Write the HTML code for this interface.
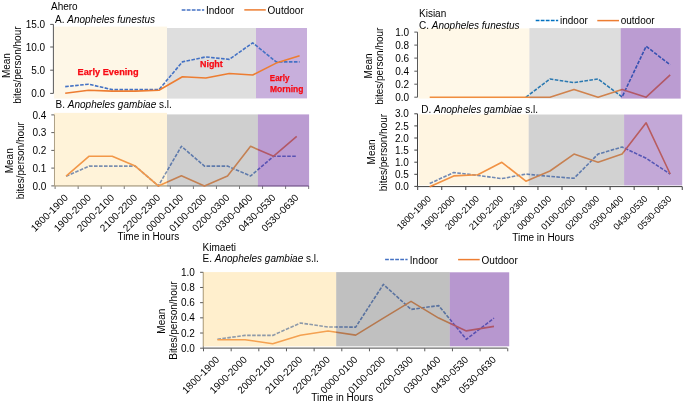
<!DOCTYPE html>
<html><head><meta charset="utf-8"><style>
html,body{margin:0;padding:0;background:#fff;}
body{width:685px;height:404px;overflow:hidden;}
svg{display:block;will-change:transform;font-family:"Liberation Sans", sans-serif;}
</style></head><body>
<svg width="685" height="404" viewBox="0 0 685 404">
<rect x="0" y="0" width="685" height="404" fill="#fff"/>
<text x="51.00" y="9.90" font-size="10" text-anchor="start" font-weight="normal" fill="#000" >Ahero</text>
<text x="55.00" y="23.40" font-size="10" text-anchor="start" font-weight="normal" fill="#000" >A. <tspan font-style="italic">Anopheles funestus</tspan></text>
<line x1="181.70" y1="9.90" x2="204.20" y2="9.90" stroke="#4472C4" stroke-width="1.5" stroke-dasharray="3.75,1.3"/>
<text x="206.00" y="13.80" font-size="10" text-anchor="start" font-weight="normal" fill="#000" >Indoor</text>
<line x1="244.30" y1="9.90" x2="265.80" y2="9.90" stroke="#ED7D31" stroke-width="1.5" />
<text x="267.60" y="13.80" font-size="10" text-anchor="start" font-weight="normal" fill="#000" >Outdoor</text>
<text x="0.00" y="0.00" font-size="10" text-anchor="middle" font-weight="normal" fill="#000" transform="translate(9.50,65.60) rotate(-90)">Mean</text>
<text x="0.00" y="0.00" font-size="10" text-anchor="middle" font-weight="normal" fill="#000" transform="translate(21.30,65.10) rotate(-90)">bites/person/hour</text>
<line x1="53.40" y1="24.40" x2="53.40" y2="93.40" stroke="#595959" stroke-width="1" />
<line x1="50.20" y1="24.40" x2="53.40" y2="24.40" stroke="#595959" stroke-width="1" />
<text x="45.20" y="28.00" font-size="10" text-anchor="end" font-weight="normal" fill="#000" >15.0</text>
<line x1="50.20" y1="47.00" x2="53.40" y2="47.00" stroke="#595959" stroke-width="1" />
<text x="45.20" y="50.60" font-size="10" text-anchor="end" font-weight="normal" fill="#000" >10.0</text>
<line x1="50.20" y1="70.20" x2="53.40" y2="70.20" stroke="#595959" stroke-width="1" />
<text x="45.20" y="73.80" font-size="10" text-anchor="end" font-weight="normal" fill="#000" >5.0</text>
<line x1="50.20" y1="93.40" x2="53.40" y2="93.40" stroke="#595959" stroke-width="1" />
<text x="45.20" y="97.00" font-size="10" text-anchor="end" font-weight="normal" fill="#000" >0.0</text>
<rect x="54.10" y="26.60" width="112.90" height="72.00" fill="#FEF7E7" fill-opacity="1"/>
<rect x="167.00" y="28.00" width="89.00" height="70.60" fill="#DEDEDE" fill-opacity="1"/>
<rect x="256.00" y="28.00" width="51.00" height="70.40" fill="#C8AFDC" fill-opacity="1"/>
<polyline points="65.20,86.60 88.64,84.20 112.08,89.60 135.52,89.60 158.96,89.60 182.40,61.90 205.84,56.90 229.28,59.40 252.72,42.80 276.16,61.90 299.60,61.90" fill="none" stroke="#4472C4" stroke-width="1.6" stroke-linejoin="round" stroke-dasharray="3.6,1.4"/>
<polyline points="65.20,93.30 88.64,90.30 112.08,91.10 135.52,91.10 158.96,90.30 182.40,76.70 205.84,78.00 229.28,73.50 252.72,75.00 276.16,63.10 299.60,55.70" fill="none" stroke="#ED7D31" stroke-width="1.6" stroke-linejoin="round"/>
<text x="77.60" y="75.30" font-size="9.2" text-anchor="start" font-weight="bold" fill="#F80A14" textLength="61" lengthAdjust="spacingAndGlyphs" stroke="#F80A14" stroke-width="0.25">Early Evening</text>
<text x="200.00" y="67.30" font-size="9.2" text-anchor="start" font-weight="bold" fill="#F80A14" textLength="22.8" lengthAdjust="spacingAndGlyphs" stroke="#F80A14" stroke-width="0.25">Night</text>
<text x="269.80" y="81.10" font-size="9.2" text-anchor="start" font-weight="bold" fill="#F80A14" textLength="19.6" lengthAdjust="spacingAndGlyphs" stroke="#F80A14" stroke-width="0.25">Early</text>
<text x="270.00" y="92.30" font-size="9.2" text-anchor="start" font-weight="bold" fill="#F80A14" textLength="33.4" lengthAdjust="spacingAndGlyphs" stroke="#F80A14" stroke-width="0.25">Morning</text>
<text x="55.60" y="108.10" font-size="10" text-anchor="start" font-weight="normal" fill="#000" >B. <tspan font-style="italic">Anopheles gambiae</tspan> s.l.</text>
<text x="0.00" y="0.00" font-size="10" text-anchor="middle" font-weight="normal" fill="#000" transform="translate(12.80,160.80) rotate(-90)">Mean</text>
<text x="0.00" y="0.00" font-size="10" text-anchor="middle" font-weight="normal" fill="#000" transform="translate(24.40,160.70) rotate(-90)">bites/person/hour</text>
<line x1="54.60" y1="185.90" x2="308.60" y2="185.90" stroke="#8C8C8C" stroke-width="1.2" />
<line x1="55.10" y1="185.90" x2="55.10" y2="189.00" stroke="#7A7A7A" stroke-width="1" />
<line x1="78.15" y1="185.90" x2="78.15" y2="189.00" stroke="#7A7A7A" stroke-width="1" />
<line x1="101.20" y1="185.90" x2="101.20" y2="189.00" stroke="#7A7A7A" stroke-width="1" />
<line x1="124.25" y1="185.90" x2="124.25" y2="189.00" stroke="#7A7A7A" stroke-width="1" />
<line x1="147.30" y1="185.90" x2="147.30" y2="189.00" stroke="#7A7A7A" stroke-width="1" />
<line x1="170.35" y1="185.90" x2="170.35" y2="189.00" stroke="#7A7A7A" stroke-width="1" />
<line x1="193.40" y1="185.90" x2="193.40" y2="189.00" stroke="#7A7A7A" stroke-width="1" />
<line x1="216.45" y1="185.90" x2="216.45" y2="189.00" stroke="#7A7A7A" stroke-width="1" />
<line x1="239.50" y1="185.90" x2="239.50" y2="189.00" stroke="#7A7A7A" stroke-width="1" />
<line x1="262.55" y1="185.90" x2="262.55" y2="189.00" stroke="#7A7A7A" stroke-width="1" />
<line x1="285.60" y1="185.90" x2="285.60" y2="189.00" stroke="#7A7A7A" stroke-width="1" />
<line x1="308.65" y1="185.90" x2="308.65" y2="189.00" stroke="#7A7A7A" stroke-width="1" />
<line x1="54.50" y1="114.90" x2="54.50" y2="185.90" stroke="#8C8C8C" stroke-width="1" />
<line x1="51.30" y1="114.90" x2="54.50" y2="114.90" stroke="#5F5F5F" stroke-width="1" />
<text x="46.40" y="118.50" font-size="10" text-anchor="end" font-weight="normal" fill="#000" >0.4</text>
<line x1="51.30" y1="132.60" x2="54.50" y2="132.60" stroke="#5F5F5F" stroke-width="1" />
<text x="46.40" y="136.20" font-size="10" text-anchor="end" font-weight="normal" fill="#000" >0.3</text>
<line x1="51.30" y1="150.40" x2="54.50" y2="150.40" stroke="#5F5F5F" stroke-width="1" />
<text x="46.40" y="154.00" font-size="10" text-anchor="end" font-weight="normal" fill="#000" >0.2</text>
<line x1="51.30" y1="168.10" x2="54.50" y2="168.10" stroke="#5F5F5F" stroke-width="1" />
<text x="46.40" y="171.70" font-size="10" text-anchor="end" font-weight="normal" fill="#000" >0.1</text>
<line x1="51.30" y1="185.90" x2="54.50" y2="185.90" stroke="#5F5F5F" stroke-width="1" />
<text x="46.40" y="189.50" font-size="10" text-anchor="end" font-weight="normal" fill="#000" >0.0</text>
<polyline points="66.10,176.20 89.16,166.10 112.22,166.10 135.28,166.10 158.34,185.90 181.40,146.30 204.46,166.10 227.52,166.10 250.58,176.00 273.64,156.20 296.70,156.20" fill="none" stroke="#4472C4" stroke-width="1.6" stroke-linejoin="round" stroke-dasharray="3.6,1.4"/>
<polyline points="66.10,176.20 89.16,156.20 112.22,156.20 135.28,166.10 158.34,185.90 181.40,175.70 204.46,185.90 227.52,176.00 250.58,146.30 273.64,156.20 296.70,136.40" fill="none" stroke="#ED7D31" stroke-width="1.6" stroke-linejoin="round"/>
<rect x="53.90" y="112.90" width="113.10" height="73.70" fill="#FFD782" fill-opacity="0.3"/>
<rect x="167.00" y="114.40" width="90.90" height="72.20" fill="#878787" fill-opacity="0.4"/>
<rect x="257.90" y="114.40" width="51.20" height="72.20" fill="#7030A0" fill-opacity="0.48"/>
<text x="0.00" y="0.00" font-size="10" text-anchor="end" font-weight="normal" fill="#000" transform="translate(68.70,198.40) rotate(-45)">1800-1900</text>
<text x="0.00" y="0.00" font-size="10" text-anchor="end" font-weight="normal" fill="#000" transform="translate(91.76,198.40) rotate(-45)">1900-2000</text>
<text x="0.00" y="0.00" font-size="10" text-anchor="end" font-weight="normal" fill="#000" transform="translate(114.82,198.40) rotate(-45)">2000-2100</text>
<text x="0.00" y="0.00" font-size="10" text-anchor="end" font-weight="normal" fill="#000" transform="translate(137.88,198.40) rotate(-45)">2100-2200</text>
<text x="0.00" y="0.00" font-size="10" text-anchor="end" font-weight="normal" fill="#000" transform="translate(160.94,198.40) rotate(-45)">2200-2300</text>
<text x="0.00" y="0.00" font-size="10" text-anchor="end" font-weight="normal" fill="#000" transform="translate(184.00,198.40) rotate(-45)">0000-0100</text>
<text x="0.00" y="0.00" font-size="10" text-anchor="end" font-weight="normal" fill="#000" transform="translate(207.06,198.40) rotate(-45)">0100-0200</text>
<text x="0.00" y="0.00" font-size="10" text-anchor="end" font-weight="normal" fill="#000" transform="translate(230.12,198.40) rotate(-45)">0200-0300</text>
<text x="0.00" y="0.00" font-size="10" text-anchor="end" font-weight="normal" fill="#000" transform="translate(253.18,198.40) rotate(-45)">0300-0400</text>
<text x="0.00" y="0.00" font-size="10" text-anchor="end" font-weight="normal" fill="#000" transform="translate(276.24,198.40) rotate(-45)">0430-0530</text>
<text x="0.00" y="0.00" font-size="10" text-anchor="end" font-weight="normal" fill="#000" transform="translate(299.30,198.40) rotate(-45)">0530-0630</text>
<text x="117.40" y="240.20" font-size="10" text-anchor="start" font-weight="normal" fill="#000" >Time in Hours</text>
<text x="419.00" y="17.20" font-size="10" text-anchor="start" font-weight="normal" fill="#000" >Kisian</text>
<text x="419.00" y="28.90" font-size="10" text-anchor="start" font-weight="normal" fill="#000" >C. <tspan font-style="italic">Anopheles funestus</tspan></text>
<line x1="535.70" y1="20.60" x2="558.20" y2="20.60" stroke="#0070C0" stroke-width="1.5" stroke-dasharray="3.75,1.3"/>
<text x="560.00" y="23.60" font-size="10" text-anchor="start" font-weight="normal" fill="#000" >indoor</text>
<line x1="597.30" y1="20.60" x2="619.00" y2="20.60" stroke="#ED7D31" stroke-width="1.5" />
<text x="620.70" y="23.60" font-size="10" text-anchor="start" font-weight="normal" fill="#000" >outdoor</text>
<text x="0.00" y="0.00" font-size="10" text-anchor="middle" font-weight="normal" fill="#000" transform="translate(371.50,65.90) rotate(-90)">Mean</text>
<text x="0.00" y="0.00" font-size="10" text-anchor="middle" font-weight="normal" fill="#000" transform="translate(382.90,66.20) rotate(-90)">bites/person/hour</text>
<line x1="417.50" y1="32.10" x2="417.50" y2="97.20" stroke="#595959" stroke-width="1" />
<line x1="414.30" y1="32.10" x2="417.50" y2="32.10" stroke="#595959" stroke-width="1" />
<text x="409.20" y="35.70" font-size="10" text-anchor="end" font-weight="normal" fill="#000" >1.0</text>
<line x1="414.30" y1="45.10" x2="417.50" y2="45.10" stroke="#595959" stroke-width="1" />
<text x="409.20" y="48.70" font-size="10" text-anchor="end" font-weight="normal" fill="#000" >0.8</text>
<line x1="414.30" y1="58.10" x2="417.50" y2="58.10" stroke="#595959" stroke-width="1" />
<text x="409.20" y="61.70" font-size="10" text-anchor="end" font-weight="normal" fill="#000" >0.6</text>
<line x1="414.30" y1="71.20" x2="417.50" y2="71.20" stroke="#595959" stroke-width="1" />
<text x="409.20" y="74.80" font-size="10" text-anchor="end" font-weight="normal" fill="#000" >0.4</text>
<line x1="414.30" y1="84.20" x2="417.50" y2="84.20" stroke="#595959" stroke-width="1" />
<text x="409.20" y="87.80" font-size="10" text-anchor="end" font-weight="normal" fill="#000" >0.2</text>
<line x1="414.30" y1="97.20" x2="417.50" y2="97.20" stroke="#595959" stroke-width="1" />
<text x="409.20" y="100.80" font-size="10" text-anchor="end" font-weight="normal" fill="#000" >0.0</text>
<polyline points="525.90,97.20 549.95,79.00 574.00,82.60 598.05,79.00 622.10,96.90 646.15,46.30 670.20,64.90" fill="none" stroke="#0070C0" stroke-width="1.6" stroke-linejoin="round" stroke-dasharray="3.6,1.4"/>
<polyline points="429.70,97.20 453.75,97.20 477.80,97.20 501.85,97.20 525.90,97.20 549.95,97.20 574.00,89.40 598.05,97.20 622.10,89.40 646.15,97.20 670.20,74.90" fill="none" stroke="#ED7D31" stroke-width="1.6" stroke-linejoin="round"/>
<rect x="418.40" y="28.40" width="111.00" height="70.20" fill="#FFD782" fill-opacity="0.18"/>
<rect x="529.40" y="28.10" width="91.30" height="70.50" fill="#8E8E8E" fill-opacity="0.3"/>
<rect x="620.70" y="28.10" width="60.00" height="70.50" fill="#7030A0" fill-opacity="0.48"/>
<text x="421.20" y="113.30" font-size="10" text-anchor="start" font-weight="normal" fill="#000" >D. <tspan font-style="italic">Anopheles gambiae</tspan> s.l.</text>
<text x="0.00" y="0.00" font-size="10" text-anchor="middle" font-weight="normal" fill="#000" transform="translate(375.20,151.90) rotate(-90)">Mean</text>
<text x="0.00" y="0.00" font-size="10" text-anchor="middle" font-weight="normal" fill="#000" transform="translate(387.20,152.50) rotate(-90)">bites/person/hour</text>
<line x1="417.50" y1="186.60" x2="682.20" y2="186.60" stroke="#404040" stroke-width="1" />
<line x1="417.70" y1="186.60" x2="417.70" y2="190.00" stroke="#404040" stroke-width="1" />
<line x1="441.75" y1="186.60" x2="441.75" y2="190.00" stroke="#404040" stroke-width="1" />
<line x1="465.80" y1="186.60" x2="465.80" y2="190.00" stroke="#404040" stroke-width="1" />
<line x1="489.85" y1="186.60" x2="489.85" y2="190.00" stroke="#404040" stroke-width="1" />
<line x1="513.90" y1="186.60" x2="513.90" y2="190.00" stroke="#404040" stroke-width="1" />
<line x1="537.95" y1="186.60" x2="537.95" y2="190.00" stroke="#404040" stroke-width="1" />
<line x1="562.00" y1="186.60" x2="562.00" y2="190.00" stroke="#404040" stroke-width="1" />
<line x1="586.05" y1="186.60" x2="586.05" y2="190.00" stroke="#404040" stroke-width="1" />
<line x1="610.10" y1="186.60" x2="610.10" y2="190.00" stroke="#404040" stroke-width="1" />
<line x1="634.15" y1="186.60" x2="634.15" y2="190.00" stroke="#404040" stroke-width="1" />
<line x1="658.20" y1="186.60" x2="658.20" y2="190.00" stroke="#404040" stroke-width="1" />
<line x1="682.25" y1="186.60" x2="682.25" y2="190.00" stroke="#404040" stroke-width="1" />
<line x1="417.50" y1="113.80" x2="417.50" y2="186.40" stroke="#404040" stroke-width="1" />
<line x1="414.30" y1="113.80" x2="417.50" y2="113.80" stroke="#404040" stroke-width="1" />
<text x="408.80" y="117.40" font-size="10" text-anchor="end" font-weight="normal" fill="#000" >3.0</text>
<line x1="414.30" y1="125.90" x2="417.50" y2="125.90" stroke="#404040" stroke-width="1" />
<text x="408.80" y="129.50" font-size="10" text-anchor="end" font-weight="normal" fill="#000" >2.5</text>
<line x1="414.30" y1="138.00" x2="417.50" y2="138.00" stroke="#404040" stroke-width="1" />
<text x="408.80" y="141.60" font-size="10" text-anchor="end" font-weight="normal" fill="#000" >2.0</text>
<line x1="414.30" y1="150.10" x2="417.50" y2="150.10" stroke="#404040" stroke-width="1" />
<text x="408.80" y="153.70" font-size="10" text-anchor="end" font-weight="normal" fill="#000" >1.5</text>
<line x1="414.30" y1="162.20" x2="417.50" y2="162.20" stroke="#404040" stroke-width="1" />
<text x="408.80" y="165.80" font-size="10" text-anchor="end" font-weight="normal" fill="#000" >1.0</text>
<line x1="414.30" y1="174.30" x2="417.50" y2="174.30" stroke="#404040" stroke-width="1" />
<text x="408.80" y="177.90" font-size="10" text-anchor="end" font-weight="normal" fill="#000" >0.5</text>
<line x1="414.30" y1="186.40" x2="417.50" y2="186.40" stroke="#404040" stroke-width="1" />
<text x="408.80" y="190.00" font-size="10" text-anchor="end" font-weight="normal" fill="#000" >0.0</text>
<polyline points="429.70,183.50 453.75,172.50 477.80,175.40 501.85,178.60 525.90,174.10 549.95,176.40 574.00,178.30 598.05,154.10 622.10,147.00 646.15,158.30 670.20,174.00" fill="none" stroke="#4472C4" stroke-width="1.6" stroke-linejoin="round" stroke-dasharray="3.6,1.4"/>
<polyline points="429.70,186.80 453.75,175.90 477.80,174.80 501.85,162.30 525.90,181.20 549.95,171.00 574.00,154.10 598.05,162.30 622.10,154.10 646.15,122.80 670.20,174.00" fill="none" stroke="#ED7D31" stroke-width="1.6" stroke-linejoin="round"/>
<rect x="418.60" y="114.40" width="110.10" height="71.00" fill="#FFD782" fill-opacity="0.24"/>
<rect x="528.70" y="114.50" width="95.40" height="70.90" fill="#8A8A8A" fill-opacity="0.38"/>
<rect x="624.10" y="114.50" width="58.10" height="70.90" fill="#7030A0" fill-opacity="0.42"/>
<text x="0.00" y="0.00" font-size="9.2" text-anchor="end" font-weight="normal" fill="#000" transform="translate(431.60,199.50) rotate(-45)">1800-1900</text>
<text x="0.00" y="0.00" font-size="9.2" text-anchor="end" font-weight="normal" fill="#000" transform="translate(455.65,199.50) rotate(-45)">1900-2000</text>
<text x="0.00" y="0.00" font-size="9.2" text-anchor="end" font-weight="normal" fill="#000" transform="translate(479.70,199.50) rotate(-45)">2000-2100</text>
<text x="0.00" y="0.00" font-size="9.2" text-anchor="end" font-weight="normal" fill="#000" transform="translate(503.75,199.50) rotate(-45)">2100-2200</text>
<text x="0.00" y="0.00" font-size="9.2" text-anchor="end" font-weight="normal" fill="#000" transform="translate(527.80,199.50) rotate(-45)">2200-2300</text>
<text x="0.00" y="0.00" font-size="9.2" text-anchor="end" font-weight="normal" fill="#000" transform="translate(551.85,199.50) rotate(-45)">0000-0100</text>
<text x="0.00" y="0.00" font-size="9.2" text-anchor="end" font-weight="normal" fill="#000" transform="translate(575.90,199.50) rotate(-45)">0100-0200</text>
<text x="0.00" y="0.00" font-size="9.2" text-anchor="end" font-weight="normal" fill="#000" transform="translate(599.95,199.50) rotate(-45)">0200-0300</text>
<text x="0.00" y="0.00" font-size="9.2" text-anchor="end" font-weight="normal" fill="#000" transform="translate(624.00,199.50) rotate(-45)">0300-0400</text>
<text x="0.00" y="0.00" font-size="9.2" text-anchor="end" font-weight="normal" fill="#000" transform="translate(648.05,199.50) rotate(-45)">0430-0530</text>
<text x="0.00" y="0.00" font-size="9.2" text-anchor="end" font-weight="normal" fill="#000" transform="translate(672.10,199.50) rotate(-45)">0530-0630</text>
<text x="512.20" y="241.00" font-size="10" text-anchor="start" font-weight="normal" fill="#000" >Time in Hours</text>
<text x="202.60" y="250.50" font-size="10" text-anchor="start" font-weight="normal" fill="#000" >Kimaeti</text>
<text x="202.60" y="262.20" font-size="10" text-anchor="start" font-weight="normal" fill="#000" >E. <tspan font-style="italic">Anopheles gambiae</tspan> s.l.</text>
<line x1="385.10" y1="259.60" x2="407.60" y2="259.60" stroke="#4472C4" stroke-width="1.5" stroke-dasharray="3.75,1.3"/>
<text x="409.80" y="263.50" font-size="10" text-anchor="start" font-weight="normal" fill="#000" >Indoor</text>
<line x1="458.10" y1="259.60" x2="479.70" y2="259.60" stroke="#ED7D31" stroke-width="1.5" />
<text x="481.60" y="263.50" font-size="10" text-anchor="start" font-weight="normal" fill="#000" >Outdoor</text>
<text x="0.00" y="0.00" font-size="10" text-anchor="middle" font-weight="normal" fill="#000" transform="translate(165.30,321.20) rotate(-90)">Mean</text>
<text x="0.00" y="0.00" font-size="10" text-anchor="middle" font-weight="normal" fill="#000" transform="translate(177.10,320.60) rotate(-90)">Bites/person/hour</text>
<line x1="203.10" y1="348.20" x2="507.40" y2="348.20" stroke="#6E6E6E" stroke-width="1.2" />
<line x1="203.50" y1="348.20" x2="203.50" y2="351.30" stroke="#595959" stroke-width="1" />
<line x1="231.16" y1="348.20" x2="231.16" y2="351.30" stroke="#595959" stroke-width="1" />
<line x1="258.82" y1="348.20" x2="258.82" y2="351.30" stroke="#595959" stroke-width="1" />
<line x1="286.48" y1="348.20" x2="286.48" y2="351.30" stroke="#595959" stroke-width="1" />
<line x1="314.14" y1="348.20" x2="314.14" y2="351.30" stroke="#595959" stroke-width="1" />
<line x1="341.80" y1="348.20" x2="341.80" y2="351.30" stroke="#595959" stroke-width="1" />
<line x1="369.46" y1="348.20" x2="369.46" y2="351.30" stroke="#595959" stroke-width="1" />
<line x1="397.12" y1="348.20" x2="397.12" y2="351.30" stroke="#595959" stroke-width="1" />
<line x1="424.78" y1="348.20" x2="424.78" y2="351.30" stroke="#595959" stroke-width="1" />
<line x1="452.44" y1="348.20" x2="452.44" y2="351.30" stroke="#595959" stroke-width="1" />
<line x1="480.10" y1="348.20" x2="480.10" y2="351.30" stroke="#595959" stroke-width="1" />
<line x1="507.76" y1="348.20" x2="507.76" y2="351.30" stroke="#595959" stroke-width="1" />
<line x1="203.30" y1="272.30" x2="203.30" y2="348.20" stroke="#7A7A7A" stroke-width="1" />
<line x1="200.10" y1="272.30" x2="203.30" y2="272.30" stroke="#595959" stroke-width="1" />
<text x="194.80" y="275.90" font-size="10" text-anchor="end" font-weight="normal" fill="#000" >1.0</text>
<line x1="200.10" y1="287.48" x2="203.30" y2="287.48" stroke="#595959" stroke-width="1" />
<text x="194.80" y="291.08" font-size="10" text-anchor="end" font-weight="normal" fill="#000" >0.8</text>
<line x1="200.10" y1="302.66" x2="203.30" y2="302.66" stroke="#595959" stroke-width="1" />
<text x="194.80" y="306.26" font-size="10" text-anchor="end" font-weight="normal" fill="#000" >0.6</text>
<line x1="200.10" y1="317.84" x2="203.30" y2="317.84" stroke="#595959" stroke-width="1" />
<text x="194.80" y="321.44" font-size="10" text-anchor="end" font-weight="normal" fill="#000" >0.4</text>
<line x1="200.10" y1="333.02" x2="203.30" y2="333.02" stroke="#595959" stroke-width="1" />
<text x="194.80" y="336.62" font-size="10" text-anchor="end" font-weight="normal" fill="#000" >0.2</text>
<line x1="200.10" y1="348.20" x2="203.30" y2="348.20" stroke="#595959" stroke-width="1" />
<text x="194.80" y="351.80" font-size="10" text-anchor="end" font-weight="normal" fill="#000" >0.0</text>
<polyline points="217.40,339.20 245.06,335.40 272.72,335.40 300.38,323.00 328.04,327.00 355.70,327.10 383.36,284.40 411.02,309.40 438.68,305.60 466.34,339.30 494.00,318.10" fill="none" stroke="#4472C4" stroke-width="1.6" stroke-linejoin="round" stroke-dasharray="3.6,1.4"/>
<polyline points="217.40,339.70 245.06,339.70 272.72,343.70 300.38,335.20 328.04,331.00 355.70,335.10 383.36,318.10 411.02,301.40 438.68,318.10 466.34,330.90 494.00,326.40" fill="none" stroke="#ED7D31" stroke-width="1.6" stroke-linejoin="round"/>
<rect x="202.80" y="272.10" width="133.40" height="74.20" fill="#FFD782" fill-opacity="0.4"/>
<rect x="336.20" y="272.10" width="113.60" height="74.20" fill="#737373" fill-opacity="0.45"/>
<rect x="449.80" y="272.30" width="59.40" height="74.00" fill="#7030A0" fill-opacity="0.5"/>
<text x="0.00" y="0.00" font-size="10" text-anchor="end" font-weight="normal" fill="#000" transform="translate(220.00,360.40) rotate(-45)">1800-1900</text>
<text x="0.00" y="0.00" font-size="10" text-anchor="end" font-weight="normal" fill="#000" transform="translate(247.66,360.40) rotate(-45)">1900-2000</text>
<text x="0.00" y="0.00" font-size="10" text-anchor="end" font-weight="normal" fill="#000" transform="translate(275.32,360.40) rotate(-45)">2000-2100</text>
<text x="0.00" y="0.00" font-size="10" text-anchor="end" font-weight="normal" fill="#000" transform="translate(302.98,360.40) rotate(-45)">2100-2200</text>
<text x="0.00" y="0.00" font-size="10" text-anchor="end" font-weight="normal" fill="#000" transform="translate(330.64,360.40) rotate(-45)">2200-2300</text>
<text x="0.00" y="0.00" font-size="10" text-anchor="end" font-weight="normal" fill="#000" transform="translate(358.30,360.40) rotate(-45)">0000-0100</text>
<text x="0.00" y="0.00" font-size="10" text-anchor="end" font-weight="normal" fill="#000" transform="translate(385.96,360.40) rotate(-45)">0100-0200</text>
<text x="0.00" y="0.00" font-size="10" text-anchor="end" font-weight="normal" fill="#000" transform="translate(413.62,360.40) rotate(-45)">0200-0300</text>
<text x="0.00" y="0.00" font-size="10" text-anchor="end" font-weight="normal" fill="#000" transform="translate(441.28,360.40) rotate(-45)">0300-0400</text>
<text x="0.00" y="0.00" font-size="10" text-anchor="end" font-weight="normal" fill="#000" transform="translate(468.94,360.40) rotate(-45)">0430-0530</text>
<text x="0.00" y="0.00" font-size="10" text-anchor="end" font-weight="normal" fill="#000" transform="translate(496.60,360.40) rotate(-45)">0530-0630</text>
<text x="311.30" y="401.40" font-size="10" text-anchor="start" font-weight="normal" fill="#000" >Time in Hours</text>
</svg>
</body></html>
